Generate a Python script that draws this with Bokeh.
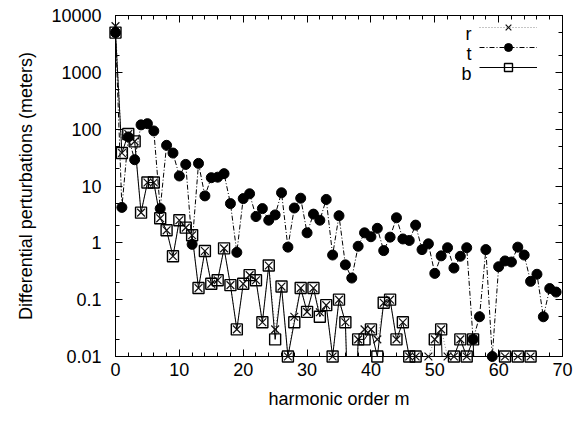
from bokeh.plotting import figure
from bokeh.models import (ColumnDataSource, Range1d, FixedTicker, LinearAxis, LogAxis,
                          Legend, LegendItem, Label)
from bokeh.embed import file_html
from bokeh.resources import INLINE

# ---------------- data ----------------
m = list(range(70))
LOW = 1e-5  # below the plotted range (drawn off the bottom of the frame)

r_vals = [6500, 38, 82, 61, 3.4, 11.5, 11.5, 2.7, 1.66, 0.58,
          2.5, 1.85, 1.36, 0.16, 0.72, 0.19, 0.22, 0.8, 0.18, 0.03,
          0.19, 0.27, 0.22, 0.04, 0.4, 0.03, 0.17, 0.01, 0.05, 0.16,
          0.061, 0.16, 0.06, 0.08, 0.01, 0.1, 0.04, LOW, 0.02, 0.03,
          0.03, 0.02, 0.088, 0.1, 0.02, 0.04, 0.01, 0.01, LOW, 0.01,
          0.02, 0.03, 0.01, 0.01, 0.02, 0.01, 0.02, LOW, LOW, LOW,
          LOW, 0.01, LOW, 0.01, LOW, 0.01, LOW, LOW, LOW, LOW]

t_vals = [5000, 4.2, 73, 29, 119, 125, 93, 4.0, 52, 38,
          15, 24, 0.94, 25, 6.7, 14, 14.3, 16.5, 4.9, 0.68,
          6.0, 7.3, 2.9, 4.0, 2.5, 3.1, 7.6, 0.84, 4.1, 6.1,
          1.5, 3.2, 2.5, 5.8, 0.61, 3.0, 0.41, 0.24, 0.87, 1.5,
          1.28, 1.8, 0.73, 1.26, 2.76, 1.17, 1.1, 2.05, 0.76, 0.96,
          0.29, 0.59, 0.82, 0.36, 0.58, 0.82, 0.02, 0.05, 0.76, 0.01,
          0.38, 0.48, 0.46, 0.84, 0.61, 0.21, 0.28, 0.05, 0.157, 0.136]

b_vals = [5000, 38, 82, 61, 3.4, 11.5, 11.5, 2.7, 1.66, 0.58,
          2.5, 1.85, 1.36, 0.16, 0.72, 0.19, 0.22, 0.8, 0.18, 0.03,
          0.19, 0.27, 0.22, 0.04, 0.4, 0.02, 0.17, 0.01, 0.04, 0.16,
          0.061, 0.16, 0.05, 0.08, 0.01, 0.1, 0.04, LOW, 0.02, 0.02,
          0.03, 0.01, 0.088, 0.1, 0.02, 0.04, 0.01, 0.01, LOW, LOW,
          0.02, 0.03, LOW, 0.01, 0.02, 0.01, 0.02, LOW, LOW, LOW,
          LOW, 0.01, LOW, 0.01, LOW, 0.01, LOW, LOW, LOW, LOW]

series_names = ["r", "t", "b"]

x_ticks = [0, 10, 20, 30, 40, 50, 60, 70]
x_minor_ticks = list(range(0, 71, 2))
y_ticks = [0.01, 0.1, 1, 10, 100, 1000, 10000]
y_tick_labels = ["0.01", "0.1", "1", "10", "100", "1000", "10000"]
y_minor_ticks = [0.02, 0.05, 0.2, 0.5, 2, 5, 20, 50, 200, 500, 2000, 5000]

x_label = "harmonic order m"
y_label = "Differential perturbations (meters)"

FONT = "Liberation Sans"
FS = "18px"

# ---------------- figure ----------------
p = figure(width=576, height=421, y_axis_type="log",
           x_range=Range1d(x_ticks[0], x_ticks[-1]),
           y_range=Range1d(y_ticks[0], y_ticks[-1]),
           output_backend="svg", toolbar_location=None,
           min_border_left=115, min_border_right=14,
           min_border_top=15, min_border_bottom=65)
p.background_fill_color = "white"
p.border_fill_color = "white"
p.outline_line_color = "black"
p.outline_line_width = 1
p.xgrid.visible = False
p.ygrid.visible = False

xt = FixedTicker(ticks=x_ticks, minor_ticks=x_minor_ticks)
yt = FixedTicker(ticks=y_ticks, minor_ticks=y_minor_ticks)
overrides = {v: s for v, s in zip(y_ticks, y_tick_labels)}


def style_axis(ax):
    ax.axis_line_color = "black"
    ax.major_tick_line_color = "black"
    ax.minor_tick_line_color = "black"
    ax.major_tick_in = 7
    ax.major_tick_out = 0
    ax.minor_tick_in = 4
    ax.minor_tick_out = 0
    ax.major_label_text_font = FONT
    ax.major_label_text_font_size = FS
    ax.major_label_text_color = "black"
    ax.axis_label_text_font = FONT
    ax.axis_label_text_font_size = FS
    ax.axis_label_text_font_style = "normal"
    ax.axis_label_text_color = "black"


xa = p.xaxis[0]
ya = p.yaxis[0]
xa.ticker = xt
ya.ticker = yt
ya.major_label_overrides = overrides
style_axis(xa)
style_axis(ya)
xa.axis_label = x_label
ya.axis_label = y_label
xa.major_label_standoff = 6
xa.axis_label_standoff = 10
ya.major_label_standoff = 14
ya.axis_label_standoff = 12

top = LinearAxis(ticker=xt)
right = LogAxis(ticker=yt)
for ax, ticks in ((top, x_ticks), (right, y_ticks)):
    style_axis(ax)
    ax.major_label_overrides = {v: "" for v in ticks}
    ax.major_label_standoff = 0
p.add_layout(top, "above")
p.add_layout(right, "right")


def in_range(xs, ys):
    keep = [(x, y) for x, y in zip(xs, ys) if y >= y_ticks[0]]
    return ColumnDataSource(dict(x=[k[0] for k in keep], y=[k[1] for k in keep]))


# r: dotted grey line, crosses
lr = p.line(m, r_vals, line_color="#8c8c8c", line_dash="1 2", line_width=1)
# t: dash-dot black line, filled circles
lt = p.line(m, t_vals, line_color="black", line_dash="5 2 1 2", line_width=1)
# b: solid black line, open squares
lb = p.line(m, b_vals, line_color="black", line_width=1)

sr = p.scatter("x", "y", source=in_range(m, r_vals), marker="x", size=11,
               line_color="#111111", line_width=1.2, level="overlay")
st = p.scatter("x", "y", source=in_range(m, t_vals), marker="circle", size=10,
               fill_color="black", line_color="black", level="overlay")
sb = p.scatter("x", "y", source=in_range(m, b_vals), marker="square", size=11,
               fill_color=None, line_color="black", line_width=1.4, level="overlay")

legend = Legend(items=[LegendItem(label=" ", renderers=[lr, sr]),
                       LegendItem(label=" ", renderers=[lt, st]),
                       LegendItem(label=" ", renderers=[lb, sb])],
                location=(364, 279), orientation="vertical",
                glyph_width=58, glyph_height=20, label_height=20,
                label_standoff=0, spacing=0, padding=0, margin=0,
                border_line_alpha=0, background_fill_alpha=0)
p.add_layout(legend)

for i, name in enumerate(series_names):
    p.add_layout(Label(x=356, y=323 - 20 * i, x_units="screen", y_units="screen",
                       text=name, text_align="right", text_baseline="alphabetic",
                       text_font=FONT, text_font_size=FS, text_color="black"))

open("out.html", "w").write(file_html(p, INLINE))
